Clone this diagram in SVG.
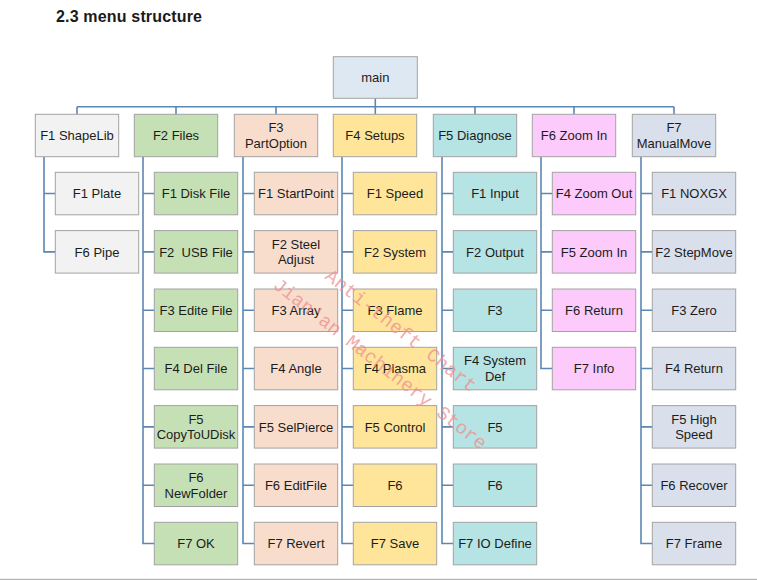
<svg xmlns="http://www.w3.org/2000/svg" width="757" height="580" viewBox="0 0 757 580">
<style>
.b{stroke:#a3a3a3;stroke-width:1}
.t{font-family:"Liberation Sans",Arial,sans-serif;font-size:13px;fill:#1c1c1c;text-anchor:middle;white-space:pre}
.c{fill:none;stroke:#5b87b4;stroke-width:1.6}
.g0{fill:#f2f2f2}.g1{fill:#c6e0b5}.g2{fill:#f8ddcd}.g3{fill:#ffe59a}.g4{fill:#b6e3e3}.g5{fill:#fccbfb}.g6{fill:#d9dfeb}.gm{fill:#dee8f3}
.w{font-family:"Liberation Mono","Courier New",monospace;font-size:19px;fill:#ee8f8f;opacity:0.75}
</style>
<rect width="757" height="580" fill="#ffffff"/>
<text x="56" y="21.7" font-family="Liberation Sans,Arial,sans-serif" font-weight="bold" font-size="16" fill="#1a1a1a" textLength="146">2.3 menu structure</text>
<line x1="0" y1="579.3" x2="757" y2="579.3" stroke="#b5b5b5" stroke-width="1.2"/>
<g id="connectors">
<path class="c" d="M375.3 98.3V114.3M77 106.7H674M77 106.7V114.3M176 106.7V114.3M276 106.7V114.3M475 106.7V114.3M574 106.7V114.3M674 106.7V114.3"/>
<path class="c" d="M44 156.7V251.9H55.3M44 193.5H55.3"/>
<path class="c" d="M143 156.7V543.5H154.3M143 193.5H154.3M143 251.9H154.3M143 310.2H154.3M143 368.5H154.3M143 426.9H154.3M143 485.2H154.3"/>
<path class="c" d="M243 156.7V543.5H254.3M243 193.5H254.3M243 251.9H254.3M243 310.2H254.3M243 368.5H254.3M243 426.9H254.3M243 485.2H254.3"/>
<path class="c" d="M342 156.7V543.5H353.3M342 193.5H353.3M342 251.9H353.3M342 310.2H353.3M342 368.5H353.3M342 426.9H353.3M342 485.2H353.3"/>
<path class="c" d="M442 156.7V543.5H453.3M442 193.5H453.3M442 251.9H453.3M442 310.2H453.3M442 368.5H453.3M442 426.9H453.3M442 485.2H453.3"/>
<path class="c" d="M541 156.7V368.5H552.3M541 193.5H552.3M541 251.9H552.3M541 310.2H552.3"/>
<path class="c" d="M641 156.7V543.5H652.3M641 193.5H652.3M641 251.9H652.3M641 310.2H652.3M641 368.5H652.3M641 426.9H652.3M641 485.2H652.3"/>
</g>
<g id="main"><rect class="b gm" x="333.3" y="56.7" width="84" height="41.6"/><text class="t" x="375.3" y="82">main</text></g>
<g id="f1"><rect class="b g0" x="35.3" y="114.3" width="83.4" height="42.4"/><text class="t" x="77" y="140.1">F1 ShapeLib</text></g>
<g id="f2"><rect class="b g1" x="134.3" y="114.3" width="83.4" height="42.4"/><text class="t" x="176" y="140.1">F2 Files</text></g>
<g id="f3"><rect class="b g2" x="234.3" y="114.3" width="83.4" height="42.4"/><text class="t" x="276" y="132.3">F3</text><text class="t" x="276" y="148">PartOption</text></g>
<g id="f4"><rect class="b g3" x="333.3" y="114.3" width="83.4" height="42.4"/><text class="t" x="375" y="140.1">F4 Setups</text></g>
<g id="f5"><rect class="b g4" x="433.3" y="114.3" width="83.4" height="42.4"/><text class="t" x="475" y="140.1">F5 Diagnose</text></g>
<g id="f6"><rect class="b g5" x="532.3" y="114.3" width="83.4" height="42.4"/><text class="t" x="574" y="140.1">F6 Zoom In</text></g>
<g id="f7"><rect class="b g6" x="632.3" y="114.3" width="83.4" height="42.4"/><text class="t" x="674" y="132.3">F7</text><text class="t" x="674" y="148">ManualMove</text></g>

<g id="f1-1"><rect class="b g0" x="55.3" y="172.3" width="83.4" height="42.5"/><text class="t" x="97" y="198.1">F1 Plate</text></g>
<g id="f1-6"><rect class="b g0" x="55.3" y="230.6" width="83.4" height="42.5"/><text class="t" x="97" y="256.5">F6 Pipe</text></g>

<g id="f2-1"><rect class="b g1" x="154.3" y="172.3" width="83.4" height="42.5"/><text class="t" x="196" y="198.1">F1 Disk File</text></g>
<g id="f2-2"><rect class="b g1" x="154.3" y="230.6" width="83.4" height="42.5"/><text class="t" x="196" y="256.5">F2  USB File</text></g>
<g id="f2-3"><rect class="b g1" x="154.3" y="289" width="83.4" height="42.5"/><text class="t" x="196" y="314.8">F3 Edite File</text></g>
<g id="f2-4"><rect class="b g1" x="154.3" y="347.3" width="83.4" height="42.5"/><text class="t" x="196" y="373.1">F4 Del File</text></g>
<g id="f2-5"><rect class="b g1" x="154.3" y="405.6" width="83.4" height="42.5"/><text class="t" x="196" y="423.7">F5</text><text class="t" x="196" y="439.4">CopyToUDisk</text></g>
<g id="f2-6"><rect class="b g1" x="154.3" y="464" width="83.4" height="42.5"/><text class="t" x="196" y="482">F6</text><text class="t" x="196" y="497.7">NewFolder</text></g>
<g id="f2-7"><rect class="b g1" x="154.3" y="522.3" width="83.4" height="42.5"/><text class="t" x="196" y="548.1">F7 OK</text></g>

<g id="f3-1"><rect class="b g2" x="254.3" y="172.3" width="83.4" height="42.5"/><text class="t" x="296" y="198.1">F1 StartPoint</text></g>
<g id="f3-2"><rect class="b g2" x="254.3" y="230.6" width="83.4" height="42.5"/><text class="t" x="296" y="248.7">F2 Steel</text><text class="t" x="296" y="264.4">Adjust</text></g>
<g id="f3-3"><rect class="b g2" x="254.3" y="289" width="83.4" height="42.5"/><text class="t" x="296" y="314.8">F3 Array</text></g>
<g id="f3-4"><rect class="b g2" x="254.3" y="347.3" width="83.4" height="42.5"/><text class="t" x="296" y="373.1">F4 Angle</text></g>
<g id="f3-5"><rect class="b g2" x="254.3" y="405.6" width="83.4" height="42.5"/><text class="t" x="296" y="431.5">F5 SelPierce</text></g>
<g id="f3-6"><rect class="b g2" x="254.3" y="464" width="83.4" height="42.5"/><text class="t" x="296" y="489.8">F6 EditFile</text></g>
<g id="f3-7"><rect class="b g2" x="254.3" y="522.3" width="83.4" height="42.5"/><text class="t" x="296" y="548.1">F7 Revert</text></g>

<g id="f4-1"><rect class="b g3" x="353.3" y="172.3" width="83.4" height="42.5"/><text class="t" x="395" y="198.1">F1 Speed</text></g>
<g id="f4-2"><rect class="b g3" x="353.3" y="230.6" width="83.4" height="42.5"/><text class="t" x="395" y="256.5">F2 System</text></g>
<g id="f4-3"><rect class="b g3" x="353.3" y="289" width="83.4" height="42.5"/><text class="t" x="395" y="314.8">F3 Flame</text></g>
<g id="f4-4"><rect class="b g3" x="353.3" y="347.3" width="83.4" height="42.5"/><text class="t" x="395" y="373.1">F4 Plasma</text></g>
<g id="f4-5"><rect class="b g3" x="353.3" y="405.6" width="83.4" height="42.5"/><text class="t" x="395" y="431.5">F5 Control</text></g>
<g id="f4-6"><rect class="b g3" x="353.3" y="464" width="83.4" height="42.5"/><text class="t" x="395" y="489.8">F6</text></g>
<g id="f4-7"><rect class="b g3" x="353.3" y="522.3" width="83.4" height="42.5"/><text class="t" x="395" y="548.1">F7 Save</text></g>

<g id="f5-1"><rect class="b g4" x="453.3" y="172.3" width="83.4" height="42.5"/><text class="t" x="495" y="198.1">F1 Input</text></g>
<g id="f5-2"><rect class="b g4" x="453.3" y="230.6" width="83.4" height="42.5"/><text class="t" x="495" y="256.5">F2 Output</text></g>
<g id="f5-3"><rect class="b g4" x="453.3" y="289" width="83.4" height="42.5"/><text class="t" x="495" y="314.8">F3</text></g>
<g id="f5-4"><rect class="b g4" x="453.3" y="347.3" width="83.4" height="42.5"/><text class="t" x="495" y="365.3">F4 System</text><text class="t" x="495" y="381">Def</text></g>
<g id="f5-5"><rect class="b g4" x="453.3" y="405.6" width="83.4" height="42.5"/><text class="t" x="495" y="431.5">F5</text></g>
<g id="f5-6"><rect class="b g4" x="453.3" y="464" width="83.4" height="42.5"/><text class="t" x="495" y="489.8">F6</text></g>
<g id="f5-7"><rect class="b g4" x="453.3" y="522.3" width="83.4" height="42.5"/><text class="t" x="495" y="548.1">F7 IO Define</text></g>

<g id="f6-4"><rect class="b g5" x="552.3" y="172.3" width="83.4" height="42.5"/><text class="t" x="594" y="198.1">F4 Zoom Out</text></g>
<g id="f6-5"><rect class="b g5" x="552.3" y="230.6" width="83.4" height="42.5"/><text class="t" x="594" y="256.5">F5 Zoom In</text></g>
<g id="f6-6"><rect class="b g5" x="552.3" y="289" width="83.4" height="42.5"/><text class="t" x="594" y="314.8">F6 Return</text></g>
<g id="f6-7"><rect class="b g5" x="552.3" y="347.3" width="83.4" height="42.5"/><text class="t" x="594" y="373.1">F7 Info</text></g>

<g id="f7-1"><rect class="b g6" x="652.3" y="172.3" width="83.4" height="42.5"/><text class="t" x="694" y="198.1">F1 NOXGX</text></g>
<g id="f7-2"><rect class="b g6" x="652.3" y="230.6" width="83.4" height="42.5"/><text class="t" x="694" y="256.5">F2 StepMove</text></g>
<g id="f7-3"><rect class="b g6" x="652.3" y="289" width="83.4" height="42.5"/><text class="t" x="694" y="314.8">F3 Zero</text></g>
<g id="f7-4"><rect class="b g6" x="652.3" y="347.3" width="83.4" height="42.5"/><text class="t" x="694" y="373.1">F4 Return</text></g>
<g id="f7-5"><rect class="b g6" x="652.3" y="405.6" width="83.4" height="42.5"/><text class="t" x="694" y="423.7">F5 High</text><text class="t" x="694" y="439.4">Speed</text></g>
<g id="f7-6"><rect class="b g6" x="652.3" y="464" width="83.4" height="42.5"/><text class="t" x="694" y="489.8">F6 Recover</text></g>
<g id="f7-7"><rect class="b g6" x="652.3" y="522.3" width="83.4" height="42.5"/><text class="t" x="694" y="548.1">F7 Frame</text></g>

<g id="watermark">
<text class="w" transform="translate(324 278) rotate(38)" textLength="186">Anti-theft Chart</text>
<text class="w" transform="translate(272 287) rotate(38)" textLength="265">Jian'an Machinery Store</text>
</g>
</svg>
